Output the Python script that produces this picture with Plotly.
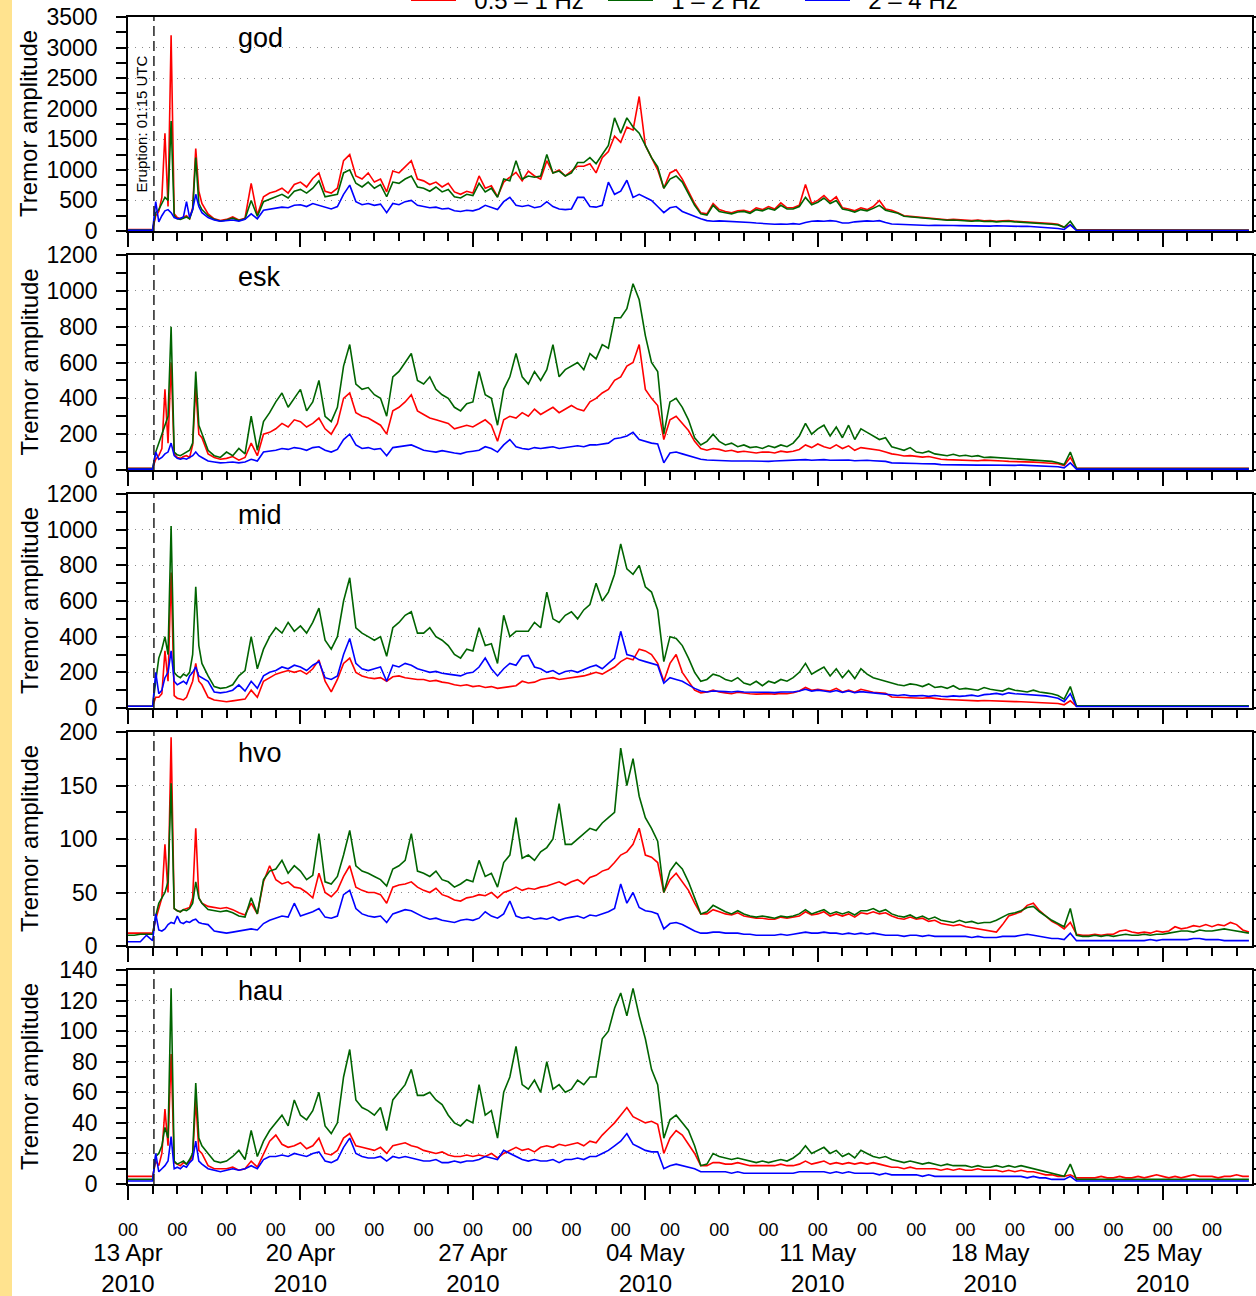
import plotly.graph_objects as go
from datetime import datetime, timedelta

# ---------------- data (one row per day, 6-hourly; days 1-2 are 3-hourly) -------------
START = datetime(2010, 4, 13)
ERUPTION = datetime(2010, 4, 14, 1, 15)
X_END = datetime(2010, 5, 28, 15, 0)
stations = ["god", "esk", "mid", "hvo", "hau"]
band_names = ["0.5 \u2013 1 Hz", "1 \u2013 2 Hz", "2 \u2013 4 Hz"]
y_max = [3500, 1200, 1200, 200, 140]
y_step = [500, 200, 200, 50, 20]

god_red = [
 [25,25,24,25],
 [25,250,320,550,1600,400,3200,280],
 [220,200,230,250,200,380,1350,650],
 [450,280,200,170],[190,230,180,210],[780,260,560,620],[650,700,620,760],
 [800,720,860,950],[650,620,700,1150],[1250,900,850,950],[800,850,640,980],
 [950,1050,1150,850],[820,760,800,720],[780,640,600,650],[620,900,700,740],
 [560,800,880,960],[820,980,900,850],[1150,950,1000,900],[980,1060,1060,1100],
 [950,1200,1300,1550],[1450,1700,1650,2200],[1400,1200,1000,700],[950,1000,850,650],
 [450,300,280,450],[350,320,300,330],[340,310,380,350],[400,360,460,380],
 [380,420,760,450],[500,580,480,560],[380,360,330,380],[350,400,500,360],
 [340,300,250,240],[230,220,210,200],[190,185,190,180],[175,170,180,165],
 [170,160,165,170],[160,155,150,140],[135,130,120,110],[60,100,20,18],
 [18,18,17,18],[18,17,18,18],[17,18,18,17],[18,18,17,18],[18,17,18,18],[17,18,18,17],
 [18,18,17],
]
god_green = [
 [15,15,15,15],
 [15,300,350,450,550,500,1800,250],
 [200,190,210,230,200,350,1200,450],
 [350,250,190,160],[180,210,170,200],[500,240,480,520],[550,600,540,650],
 [680,620,700,820],[560,580,600,950],[1000,780,720,800],[700,760,560,800],
 [780,850,900,720],[700,650,720,640],[680,560,540,600],[580,780,640,700],
 [550,850,820,1150],[850,900,880,900],[1250,950,980,900],[950,1120,1120,1200],
 [1100,1250,1400,1850],[1600,1850,1700,1600],[1400,1200,1050,700],[850,900,800,600],
 [420,280,260,420],[320,300,280,310],[320,290,350,330],[370,340,420,360],
 [360,400,550,430],[470,540,450,500],[360,340,310,350],[330,370,420,340],
 [320,290,240,230],[220,210,200,190],[180,175,180,170],[165,160,170,155],
 [160,150,155,160],[150,145,140,130],[125,120,110,100],[60,160,15,12],
 [12,12,12,12],[12,12,12,12],[12,12,12,12],[12,12,12,12],[12,12,12,12],[12,12,12,12],
 [12,12,12],
]
god_blue = [
 [10,10,10,10],
 [10,480,150,250,330,350,300,220],
 [200,210,230,480,220,350,600,400],
 [300,220,180,160],[170,180,160,190],[280,200,340,360],[370,390,380,420],
 [430,400,450,420],[380,360,400,600],[750,480,430,450],[420,440,300,450],
 [430,480,500,420],[400,380,390,360],[370,330,320,340],[330,360,420,380],
 [350,480,550,420],[400,420,380,400],[480,400,360,350],[360,550,550,400],
 [390,420,800,600],[650,830,550,600],[550,500,400,300],[380,400,320,280],
 [230,200,170,160],[165,160,155,160],[150,140,130,120],[120,110,115,110],
 [120,110,140,160],[165,160,170,160],[130,130,150,160],[165,160,170,140],
 [115,110,105,110],[100,95,90,95],[90,85,90,88],[85,80,85,82],
 [80,85,80,78],[80,75,78,72],[60,55,45,40],[25,100,8,6],
 [6,6,6,6],[6,6,6,6],[6,6,6,6],[6,6,6,6],[6,6,6,6],[6,6,6,6],
 [6,6,6],
]

esk_red = [
 [10,10,10,10],
 [10,60,80,120,450,150,600,90],
 [70,65,75,80,70,140,460,200],
 [180,90,70,60],[65,75,55,70],[150,80,200,210],[230,260,240,280],
 [270,240,260,290],[230,200,260,400],[430,320,300,290],[270,250,200,330],
 [350,380,420,330],[310,290,280,270],[260,230,240,250],[240,260,280,250],
 [160,280,300,290],[320,300,340,310],[330,350,320,340],[360,340,330,380],
 [400,430,450,500],[520,580,600,700],[450,400,360,170],[280,300,260,220],
 [160,120,110,120],[115,105,110,100],[105,100,95,100],[100,95,105,100],
 [105,115,140,125],[145,130,120,140],[120,135,110,125],[120,115,110,100],
 [90,85,78,80],[75,72,75,68],[60,58,56,58],[55,54,52,55],
 [52,52,50,48],[48,46,45,44],[42,40,38,35],[25,70,10,10],
 [10,10,10,10],[10,10,10,10],[10,10,10,10],[10,10,10,10],[10,10,10,10],[10,10,10,10],
 [10,10,10],
]
esk_green = [
 [8,8,8,8],
 [8,100,150,200,250,300,800,100],
 [85,80,90,100,110,150,550,250],
 [200,110,80,70],[100,80,120,90],[300,110,270,320],[380,430,350,400],
 [450,330,380,500],[300,270,350,580],[700,480,450,460],[420,400,300,520],
 [550,600,650,500],[480,520,450,420],[400,350,330,370],[380,550,420,400],
 [250,450,520,650],[520,480,550,500],[560,700,520,560],[580,600,560,650],
 [620,700,680,850],[850,900,1040,950],[750,600,550,200],[380,400,350,280],
 [180,140,160,200],[160,140,150,130],[140,125,130,120],[135,125,140,130],
 [150,190,260,200],[230,250,190,240],[180,250,170,230],[210,190,170,180],
 [130,120,110,125],[100,95,105,90],[85,80,88,78],[82,75,80,70],
 [72,70,68,66],[64,62,60,58],[55,52,48,40],[30,100,8,8],
 [8,8,8,8],[8,8,8,8],[8,8,8,8],[8,8,8,8],[8,8,8,8],[8,8,8,8],
 [8,8,8],
]
esk_blue = [
 [5,5,5,5],
 [5,100,60,70,90,100,150,80],
 [65,60,65,60,70,80,100,80],
 [70,50,45,40],[42,45,40,45],[60,50,100,105],[110,120,115,125],
 [120,110,125,130],[110,100,115,170],[200,140,120,125],[115,120,80,125],
 [130,135,140,125],[110,105,100,108],[100,95,90,100],[105,110,130,120],
 [100,140,170,130],[120,115,125,120],[125,130,120,125],[130,135,130,140],
 [140,145,150,175],[180,190,210,170],[160,150,145,40],[95,100,90,80],
 [70,60,56,56],[55,52,50,52],[50,50,48,49],[48,50,52,50],
 [52,55,58,54],[56,58,54,56],[54,56,52,55],[54,52,50,48],
 [40,38,37,38],[36,35,36,34],[30,29,28,29],[28,28,27,28],
 [27,28,27,26],[26,27,26,25],[24,22,20,18],[12,40,5,5],
 [5,5,5,5],[5,5,5,5],[5,5,5,5],[5,5,5,5],[5,5,5,5],[5,5,5,5],
 [5,5,5],
]

mid_red = [
 [10,10,10,10],
 [10,60,60,80,320,150,760,70],
 [55,50,45,60,100,150,250,150],
 [130,60,45,40],[35,40,45,50],[100,60,150,170],[190,200,210,200],
 [210,190,220,270],[150,90,160,250],[280,200,180,170],[165,170,150,175],
 [180,170,165,160],[160,150,155,145],[140,130,125,130],[120,125,115,120],
 [110,115,120,125],[150,140,145,160],[165,170,160,165],[170,175,180,190],
 [200,190,210,230],[260,280,270,330],[320,300,250,150],[250,300,200,150],
 [100,85,90,100],[90,85,80,88],[82,80,78,80],[80,78,82,80],
 [85,95,115,100],[105,100,95,110],[90,100,88,105],[95,88,85,82],
 [62,60,58,60],[56,55,58,52],[50,48,46,45],[44,42,40,42],
 [40,38,37,36],[36,35,34,33],[32,30,28,25],[18,40,10,10],
 [10,10,10,10],[10,10,10,10],[10,10,10,10],[10,10,10,10],[10,10,10,10],[10,10,10,10],
 [10,10,10],
]
mid_green = [
 [10,10,10,10],
 [10,150,280,330,400,300,1020,200],
 [180,170,190,180,200,300,680,350],
 [250,180,120,110],[115,130,180,210],[400,220,330,400],[450,420,480,430],
 [460,420,480,560],[380,330,400,600],[730,450,420,400],[380,400,290,450],
 [480,520,540,420],[420,450,400,380],[350,300,280,330],[320,450,350,360],
 [250,520,400,430],[430,430,480,450],[650,500,480,520],[540,500,550,580],
 [700,600,650,750],[920,780,750,800],[680,650,550,260],[400,390,350,280],
 [200,150,160,190],[180,160,150,170],[140,130,150,125],[150,140,160,150],
 [170,200,250,190],[210,230,180,220],[170,210,165,220],[190,170,160,150],
 [140,130,125,135],[130,120,135,115],[120,110,125,105],[110,105,100,115],
 [105,100,95,110],[100,95,90,100],[90,85,80,70],[50,120,12,12],
 [12,12,12,12],[12,12,12,12],[12,12,12,12],[12,12,12,12],[12,12,12,12],[12,12,12,12],
 [12,12,12],
]
mid_blue = [
 [10,10,10,10],
 [10,200,80,100,170,200,320,150],
 [130,140,150,135,180,200,230,180],
 [170,150,90,85],[90,100,130,95],[150,110,180,200],[210,230,220,240],
 [230,210,240,260],[170,160,180,300],[390,250,220,210],[220,230,150,240],
 [230,250,240,220],[210,200,205,195],[190,185,180,195],[200,230,280,220],
 [180,220,250,240],[290,295,230,220],[200,210,190,205],[210,200,215,230],
 [240,220,250,280],[430,300,290,270],[260,250,240,140],[170,160,150,130],
 [110,95,90,95],[95,92,90,94],[90,88,86,88],[88,86,90,88],
 [90,95,105,95],[100,95,90,98],[88,95,86,92],[88,84,82,80],
 [72,70,74,68],[68,70,65,70],[66,64,68,65],[68,72,66,75],
 [78,82,75,85],[80,78,75,72],[70,68,62,55],[35,80,8,8],
 [8,8,8,8],[8,8,8,8],[8,8,8,8],[8,8,8,8],[8,8,8,8],[8,8,8,8],
 [8,8,8],
]

hvo_red = [
 [12,12,12,12],
 [12,25,35,45,95,50,195,35],
 [33,32,34,35,36,45,110,45],
 [40,37,36,35],[36,34,31,29],[40,30,60,75],[62,58,60,55],
 [54,50,45,68],[50,46,52,65],[75,55,52,50],[50,48,40,55],
 [57,58,60,55],[52,50,54,48],[46,43,42,45],[46,48,47,50],
 [45,50,52,55],[52,54,53,55],[56,58,60,57],[60,62,58,64],
 [66,70,72,78],[85,88,95,110],[85,83,78,50],[62,68,60,52],
 [40,30,30,34],[32,30,29,31],[28,27,26,26],[25,25,27,26],
 [27,28,32,29],[30,32,28,30],[28,30,27,31],[30,32,30,31],
 [28,26,25,27],[25,26,23,24],[21,20,19,20],[18,17,16,15],
 [14,13,20,28],[30,32,38,40],[33,28,23,20],[16,22,11,10],
 [10,11,10,11],[11,14,15,13],[12,13,12,14],[13,14,18,16],[17,19,18,20],[18,20,19,22],
 [20,15,13],
]
hvo_green = [
 [10,10,11,11],
 [11,28,40,45,50,60,152,35],
 [33,32,34,33,35,40,60,45],
 [40,34,33,32],[33,31,28,27],[45,30,62,70],[72,80,68,75],
 [70,62,66,105],[60,58,65,85],[108,75,70,68],[65,62,56,72],
 [75,80,105,70],[68,65,70,62],[60,55,58,62],[60,80,65,68],
 [55,78,85,120],[82,85,80,88],[92,100,133,95],[95,100,105,110],
 [108,115,120,125],[185,150,175,140],[120,110,98,50],[70,78,72,60],
 [45,30,32,38],[35,32,30,33],[30,28,27,28],[27,26,28,27],
 [28,30,34,30],[32,34,30,32],[30,32,29,33],[33,35,32,34],
 [30,28,27,29],[26,28,25,27],[24,23,22,24],[22,23,21,22],
 [22,24,27,30],[31,33,36,37],[32,28,24,21],[18,35,10,9],
 [9,10,9,10],[9,10,11,10],[10,11,10,11],[11,12,13,14],[14,13,15,14],[14,15,16,15],
 [14,13,12],
]
hvo_blue = [
 [4,4,4,10],
 [5,30,15,14,16,20,22,21],
 [28,22,21,23,22,24,25,22],
 [21,20,14,13],[12,13,14,15],[16,15,21,24],[26,28,27,40],
 [28,30,32,35],[27,26,28,48],[52,35,30,28],[27,28,22,30],
 [32,34,33,30],[27,25,26,24],[23,22,24,25],[24,26,32,28],
 [26,30,42,28],[26,27,25,26],[25,27,24,26],[27,28,26,29],
 [28,30,32,35],[58,40,50,36],[33,32,30,16],[21,22,20,17],
 [14,12,12,13],[13,12,12,12],[11,11,10,10],[10,10,11,10],
 [11,12,13,12],[12,13,12,12],[11,12,11,12],[11,12,11,10],
 [10,10,9,10],[10,9,10,9],[9,9,9,9],[9,8,9,8],
 [8,8,9,9],[9,10,11,10],[9,8,7,7],[6,12,5,5],
 [5,5,5,5],[5,5,5,5],[5,5,6,5],[6,6,6,6],[6,7,7,6],[6,6,5,5],
 [5,5,5],
]

hau_red = [
 [5,5,5,5],
 [5,15,12,20,49,25,85,14],
 [13,12,14,13,15,18,55,22],
 [20,12,10,10],[10,11,9,10],[15,11,20,28],[32,26,24,25],
 [27,23,25,30],[20,19,22,30],[33,25,24,23],[22,24,20,25],
 [26,27,25,24],[22,21,20,21],[19,18,18,19],[18,19,18,20],
 [17,20,22,24],[22,23,21,24],[25,24,26,25],[26,27,25,28],
 [27,32,36,40],[45,50,44,42],[40,41,39,20],[30,35,32,26],
 [20,12,12,14],[14,13,13,14],[13,12,12,12],[12,12,13,12],
 [12,13,15,13],[14,15,13,14],[13,14,13,14],[13,14,13,12],
 [11,11,10,11],[10,10,10,10],[9,10,9,10],[9,9,10,9],
 [9,9,8,9],[8,9,8,8],[7,6,6,5],[5,6,4,4],
 [4,4,5,4],[4,5,4,4],[5,4,5,6],[5,4,5,4],[5,6,5,5],[5,4,5,5],
 [6,5,5],
]
hau_green = [
 [3,3,3,3],
 [3,18,20,25,37,30,128,15],
 [13,14,15,13,16,20,66,30],
 [25,20,15,14],[15,18,22,16],[35,18,28,35],[40,45,38,55],
 [45,42,48,60],[38,33,40,70],[88,55,50,48],[45,50,35,55],
 [60,65,75,58],[58,60,55,52],[45,40,38,42],[40,65,45,48],
 [30,60,70,90],[65,62,68,60],[80,62,65,60],[62,68,65,70],
 [70,95,100,115],[125,110,128,110],[95,75,65,30],[42,45,40,35],
 [25,12,13,20],[18,17,16,17],[16,15,14,15],[14,15,16,15],
 [17,20,25,20],[22,24,20,22],[18,20,17,22],[20,18,17,18],
 [16,15,14,15],[14,13,14,13],[12,13,12,12],[12,11,12,11],
 [11,12,11,12],[11,12,11,10],[9,8,7,6],[5,13,3,3],
 [3,3,3,3],[3,3,3,3],[3,3,3,3],[3,3,3,3],[3,3,3,3],[3,3,3,3],
 [3,3,3],
]
hau_blue = [
 [2,2,2,2],
 [2,20,8,10,12,15,31,10],
 [11,10,12,11,14,16,28,15],
 [13,10,9,8],[9,10,9,10],[12,10,16,18],[18,19,18,20],
 [19,18,20,21],[15,14,16,24],[30,20,18,17],[17,18,15,18],
 [17,18,17,16],[15,15,16,14],[14,15,14,15],[15,16,18,17],
 [16,22,20,18],[16,15,16,15],[15,16,14,16],[16,17,16,18],
 [18,20,22,25],[28,33,26,24],[22,21,21,10],[12,13,12,11],
 [10,8,8,8],[8,8,7,8],[7,7,7,7],[7,7,7,7],
 [7,8,8,8],[8,8,7,8],[7,8,7,7],[7,7,6,7],
 [6,6,6,6],[6,5,6,5],[5,5,5,5],[5,5,5,5],
 [5,5,5,5],[5,5,4,5],[4,4,3,3],[3,5,2,2],
 [2,2,2,2],[2,2,2,2],[2,2,2,2],[2,2,2,2],[2,2,2,2],[2,2,2,2],
 [2,2,2],
]

series = {
    "god": (god_red, god_green, god_blue),
    "esk": (esk_red, esk_green, esk_blue),
    "mid": (mid_red, mid_green, mid_blue),
    "hvo": (hvo_red, hvo_green, hvo_blue),
    "hau": (hau_red, hau_green, hau_blue),
}
colors = ["#ff0000", "#006400", "#0000ff"]


def flatten(rows):
    xs, ys = [], []
    for day, row in enumerate(rows):
        step = 3 if len(row) == 8 else 6
        for j, v in enumerate(row):
            xs.append(START + timedelta(days=day, hours=j * step))
            ys.append(v)
    return xs, ys


def xid(n):
    return "x" if n == 1 else f"x{n}"


def yid(n):
    return "y" if n == 1 else f"y{n}"


FONT = "Liberation Sans, Arial, sans-serif"
fig = go.Figure()

top, bottom = 17, 1184
H = bottom - top
panel_px = [(17, 231), (255, 470), (494, 708), (732, 946), (970, 1184)]
domains = [[(bottom - b) / H, (bottom - t) / H] for t, b in panel_px]

for i, st in enumerate(stations):
    n = i + 1
    for k in range(3):
        xs, ys = flatten(series[st][k])
        fig.add_trace(go.Scatter(
            x=xs, y=ys, mode="lines", name="\u00a0\u00a0" + band_names[k],
            line=dict(color=colors[k], width=1.6),
            xaxis=xid(n), yaxis=yid(n),
            legendgroup=band_names[k], showlegend=(i == 0),
            hoverinfo="skip"))

daily = [START + timedelta(days=d) for d in range(0, 46)]
weekly = [START + timedelta(days=d) for d in range(0, 46, 7)]
two_day = [START + timedelta(days=d) for d in range(0, 45, 2)]

layout = dict(
    width=1256, height=1296,
    paper_bgcolor="white", plot_bgcolor="white",
    margin=dict(l=128, r=4, t=17, b=112, autoexpand=False),
    font=dict(family=FONT, color="black"),
    legend=dict(orientation="h", x=(406 - 128) / 1124, xanchor="left",
                y=(bottom - 0.5) / H, yanchor="middle",
                font=dict(size=24, family=FONT), entrywidth=137,
                entrywidthmode="pixels", itemwidth=45,
                bgcolor="rgba(0,0,0,0)"),
    showlegend=True,
)

for i, st in enumerate(stations):
    n = i + 1
    xa = dict(
        domain=[0, 1], anchor=yid(n), range=[START, X_END],
        showline=True, linecolor="black", linewidth=1.5, mirror=True,
        ticks="outside", tickmode="array", tickvals=weekly, ticklen=14,
        tickwidth=1.5, tickcolor="black", showticklabels=False,
        showgrid=False, zeroline=False,
        minor=dict(tickmode="array", tickvals=daily, ticks="outside",
                   ticklen=8, tickwidth=1.5, tickcolor="black", showgrid=False),
    )
    if n != 5:
        xa["matches"] = "x5"
    layout["xaxis" if n == 1 else f"xaxis{n}"] = xa
    layout["yaxis" if n == 1 else f"yaxis{n}"] = dict(
        domain=domains[i], anchor=xid(n), range=[0, y_max[i]],
        tickmode="linear", tick0=0, dtick=y_step[i],
        showline=True, linecolor="black", linewidth=1.5, mirror="ticks",
        ticks="outside", ticklen=10, tickwidth=1.5, tickcolor="black",
        tickfont=dict(size=23, family=FONT), ticklabelstandoff=14,
        showgrid=True, gridcolor="#8a8a8a", gridwidth=1, griddash="1px,6px",
        zeroline=False,
        minor=dict(dtick=y_step[i] / 2, tick0=0, ticks="outside", ticklen=10,
                   tickwidth=1.5, tickcolor="black", showgrid=False),
    )

layout["xaxis6"] = dict(overlaying="x5", anchor="free", position=0, side="bottom",
                        range=[START, X_END], tickmode="array", tickvals=two_day,
                        ticktext=["00"] * len(two_day), ticks="", showline=False,
                        showgrid=False, zeroline=False,
                        tickfont=dict(size=18, family=FONT), ticklabelstandoff=33)
layout["xaxis7"] = dict(overlaying="x5", anchor="free", position=0, side="bottom",
                        range=[START, X_END], tickmode="array", tickvals=weekly,
                        ticktext=[d.strftime("%d %b<br>%Y") for d in weekly],
                        ticks="", showline=False, showgrid=False, zeroline=False,
                        tickfont=dict(size=24, family=FONT), ticklabelstandoff=52)
fig.add_trace(go.Scatter(x=[START, X_END], y=[None, None], xaxis="x6", yaxis="y5",
                         showlegend=False, hoverinfo="skip", mode="lines"))
fig.add_trace(go.Scatter(x=[START, X_END], y=[None, None], xaxis="x7", yaxis="y5",
                         showlegend=False, hoverinfo="skip", mode="lines"))

fig.update_layout(**layout)

shapes = []
annotations = []
shapes.append(dict(type="rect", xref="paper", yref="paper",
                   x0=-128 / 1124, x1=(12 - 128) / 1124, y0=-0.2, y1=1.1,
                   fillcolor="#ffe38f", line=dict(width=0), layer="below"))
for i, st in enumerate(stations):
    n = i + 1
    shapes.append(dict(type="line", xref=xid(n), yref=f"{yid(n)} domain",
                       x0=ERUPTION, x1=ERUPTION, y0=0, y1=1,
                       line=dict(color="#222222", width=1.5, dash="10px,5px")))
    annotations.append(dict(text=st, xref="paper", yref=f"{yid(n)} domain",
                            x=(236 - 128) / 1124, y=0.9, xanchor="left",
                            yanchor="middle", showarrow=False,
                            font=dict(size=27, family=FONT)))
    annotations.append(dict(text="Tremor amplitude", xref="paper", yref=f"{yid(n)} domain",
                            x=(29 - 128) / 1124, y=0.5, xanchor="center",
                            yanchor="middle", textangle=-90, showarrow=False,
                            font=dict(size=24, family=FONT)))
annotations.append(dict(text="Eruption: 01:15 UTC", xref="x", yref="y domain",
                        x=ERUPTION, y=0.5, xanchor="right", yanchor="middle",
                        textangle=-90, showarrow=False, xshift=-1,
                        font=dict(size=15, family=FONT)))
fig.update_layout(shapes=shapes, annotations=annotations)

fig.write_html(
    "out.html",
    config={"displayModeBar": False},
    post_script=("document.body.style.margin='0';"
                 "document.body.style.overflow='hidden';"
                 "document.documentElement.style.overflow='hidden';"),
)
